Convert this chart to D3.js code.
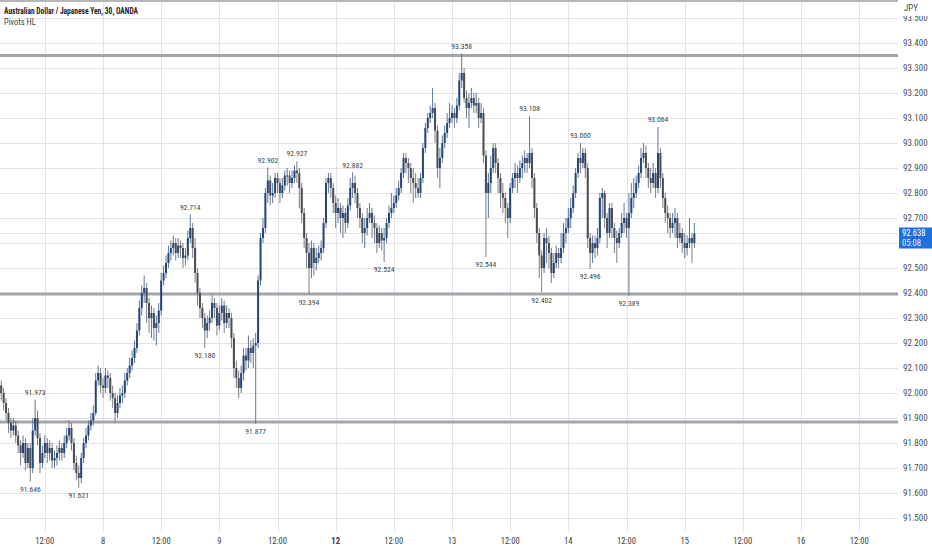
<!DOCTYPE html>
<html><head><meta charset="utf-8">
<script src="https://cdn.jsdelivr.net/npm/d3@7/dist/d3.min.js"></script>
<style>
html,body{margin:0;padding:0;background:#fff;}
svg{display:block;}
text{font-family:"Liberation Sans Narrow","Roboto Condensed","Liberation Sans",Arial,sans-serif;}
</style></head>
<body>
<svg id="c" width="932" height="550"></svg>
<script>
// ---- DATA ----
const title = "Australian Dollar / Japanese Yen, 30, OANDA";
const indicatorName = "Pivots HL";
const currency = "JPY";
const firstBar = -42;            // bar index relative to 8th 00:00 (30-min bars)
const firstOpen = 92.03;
const closes = [
92.000,91.960,91.920,91.880,91.850,91.870,91.830,91.790,91.760,91.800,
91.720,91.780,91.700,91.850,91.900,91.820,91.720,91.760,91.800,91.760,
91.780,91.730,91.740,91.760,91.780,91.760,91.800,91.830,91.860,91.800,
91.720,91.680,91.660,91.740,91.800,91.830,91.870,91.890,91.920,92.050,
92.080,92.030,92.020,92.070,92.060,92.000,91.980,91.920,91.960,91.990,
92.000,92.050,92.080,92.110,92.140,92.180,92.250,92.340,92.400,92.420,
92.360,92.300,92.320,92.260,92.280,92.330,92.450,92.480,92.520,92.560,
92.580,92.600,92.560,92.590,92.580,92.540,92.550,92.620,92.660,92.580,
92.480,92.400,92.340,92.300,92.250,92.280,92.300,92.360,92.340,92.270,
92.320,92.350,92.280,92.320,92.300,92.220,92.100,92.060,92.020,92.080,
92.150,92.130,92.180,92.160,92.190,92.200,92.450,92.620,92.660,92.800,
92.850,92.790,92.800,92.860,92.840,92.800,92.830,92.870,92.870,92.840,
92.860,92.890,92.880,92.820,92.720,92.620,92.560,92.500,92.580,92.520,
92.540,92.560,92.580,92.680,92.840,92.860,92.820,92.760,92.720,92.740,
92.700,92.720,92.680,92.750,92.820,92.840,92.800,92.740,92.700,92.640,
92.660,92.700,92.720,92.680,92.660,92.600,92.640,92.610,92.620,92.680,
92.720,92.740,92.760,92.790,92.820,92.880,92.940,92.920,92.900,92.860,
92.840,92.820,92.800,92.860,92.980,93.060,93.100,93.120,93.140,93.050,
92.900,92.940,93.000,93.040,93.080,93.100,93.120,93.100,93.150,93.250,
93.280,93.180,93.140,93.160,93.180,93.150,93.160,93.100,93.120,92.950,
92.800,92.840,92.900,92.980,92.920,92.860,92.800,92.780,92.740,92.700,
92.820,92.860,92.880,92.860,92.900,92.920,92.940,92.920,92.960,92.860,
92.740,92.640,92.550,92.500,92.620,92.600,92.560,92.480,92.520,92.560,
92.540,92.580,92.640,92.660,92.700,92.740,92.800,92.880,92.940,92.920,
92.960,92.900,92.620,92.560,92.600,92.580,92.620,92.780,92.800,92.700,
92.640,92.740,92.660,92.620,92.600,92.640,92.680,92.700,92.660,92.720,
92.780,92.800,92.840,92.880,92.940,92.960,92.900,92.860,92.840,92.880,
92.820,92.960,92.860,92.780,92.720,92.700,92.660,92.680,92.700,92.620,
92.640,92.600,92.580,92.600,92.620,92.600,92.638];
const highs = [
92.05,92.02,91.98,91.94,91.90,91.90,91.89,91.85,91.81,91.83,
91.82,91.80,91.80,91.90,91.973,91.93,91.84,91.79,91.83,91.82,
91.81,91.80,91.77,91.79,91.81,91.80,91.83,91.86,91.89,91.88,
91.82,91.75,91.71,91.76,91.82,91.86,91.89,91.92,91.95,92.08,
92.11,92.10,92.06,92.10,92.09,92.08,92.03,92.00,91.99,92.02,
92.03,92.08,92.10,92.14,92.17,92.21,92.28,92.37,92.43,92.47,
92.44,92.38,92.35,92.34,92.31,92.36,92.48,92.51,92.55,92.59,
92.61,92.63,92.62,92.62,92.61,92.60,92.58,92.65,92.714,92.68,
92.62,92.50,92.42,92.36,92.32,92.31,92.33,92.39,92.38,92.36,
92.35,92.38,92.37,92.35,92.34,92.32,92.24,92.13,92.09,92.11,
92.18,92.18,92.23,92.21,92.22,92.24,92.47,92.64,92.70,92.82,
92.902,92.87,92.84,92.88,92.88,92.86,92.86,92.89,92.90,92.89,
92.89,92.91,92.927,92.90,92.84,92.74,92.64,92.60,92.61,92.60,
92.58,92.59,92.61,92.70,92.86,92.88,92.88,92.84,92.79,92.78,
92.76,92.75,92.74,92.78,92.86,92.882,92.87,92.82,92.76,92.72,
92.70,92.74,92.76,92.74,92.71,92.68,92.67,92.66,92.66,92.70,
92.75,92.80,92.79,92.82,92.85,92.90,92.96,92.96,92.94,92.92,
92.90,92.88,92.86,92.88,93.00,93.08,93.12,93.15,93.22,93.16,
93.07,92.98,93.03,93.07,93.12,93.16,93.15,93.14,93.18,93.28,
93.358,93.30,93.21,93.20,93.22,93.20,93.20,93.18,93.16,93.14,
92.97,92.88,92.95,93.00,93.00,92.94,92.88,92.84,92.80,92.76,
92.84,92.88,92.92,92.91,92.93,92.95,92.97,92.96,93.108,92.98,
92.88,92.76,92.66,92.57,92.64,92.66,92.63,92.58,92.56,92.59,
92.58,92.64,92.68,92.70,92.74,92.78,92.83,92.90,92.96,93.00,
92.98,92.98,92.92,92.64,92.63,92.63,92.66,92.80,92.82,92.81,
92.72,92.76,92.76,92.68,92.65,92.66,92.72,92.76,92.72,92.80,
92.84,92.86,92.87,92.91,92.98,93.00,92.99,92.92,92.90,92.92,
92.90,93.064,92.98,92.88,92.80,92.75,92.72,92.72,92.74,92.72,
92.68,92.66,92.64,92.63,92.70,92.64,92.68];
const lows = [
91.97,91.93,91.89,91.84,91.82,91.83,91.80,91.76,91.71,91.74,
91.69,91.70,91.646,91.68,91.83,91.79,91.68,91.70,91.74,91.72,
91.73,91.70,91.70,91.71,91.73,91.73,91.74,91.78,91.81,91.77,
91.69,91.65,91.621,91.64,91.72,91.78,91.81,91.85,91.87,91.91,
92.03,92.00,91.98,92.00,92.02,91.97,91.94,91.88,91.90,91.94,
91.96,91.98,92.03,92.06,92.09,92.12,92.16,92.23,92.31,92.36,
92.28,92.24,92.22,92.21,92.19,92.24,92.31,92.43,92.46,92.50,
92.53,92.55,92.53,92.54,92.54,92.50,92.51,92.53,92.60,92.54,
92.44,92.35,92.30,92.26,92.18,92.22,92.25,92.28,92.30,92.23,
92.25,92.29,92.24,92.26,92.26,92.18,92.06,92.02,91.98,92.00,
92.05,92.09,92.10,92.12,92.10,91.877,92.18,92.43,92.60,92.64,
92.76,92.75,92.76,92.78,92.80,92.76,92.78,92.81,92.83,92.80,
92.82,92.84,92.84,92.74,92.68,92.58,92.50,92.394,92.46,92.47,
92.49,92.52,92.53,92.56,92.66,92.80,92.78,92.72,92.66,92.68,
92.64,92.62,92.64,92.66,92.73,92.78,92.76,92.70,92.66,92.60,
92.58,92.63,92.68,92.62,92.60,92.56,92.58,92.57,92.524,92.60,
92.66,92.70,92.72,92.74,92.77,92.80,92.86,92.88,92.84,92.80,
92.76,92.78,92.78,92.78,92.84,92.96,93.04,93.08,93.10,93.00,
92.86,92.82,92.92,92.98,93.02,93.06,93.08,93.06,93.08,93.13,
93.22,93.16,93.10,93.06,93.14,93.12,93.12,93.06,93.08,92.92,
92.544,92.70,92.80,92.88,92.88,92.80,92.74,92.72,92.68,92.62,
92.68,92.80,92.82,92.80,92.84,92.86,92.88,92.88,92.90,92.82,
92.70,92.60,92.46,92.402,92.48,92.52,92.50,92.44,92.46,92.50,
92.50,92.52,92.56,92.60,92.64,92.66,92.72,92.78,92.86,92.88,
92.90,92.86,92.58,92.496,92.52,92.54,92.55,92.60,92.70,92.66,
92.58,92.62,92.62,92.56,92.52,92.58,92.62,92.64,92.62,92.389,
92.70,92.74,92.78,92.82,92.86,92.92,92.86,92.82,92.80,92.82,
92.78,92.80,92.82,92.74,92.68,92.64,92.62,92.64,92.62,92.58,
92.60,92.56,92.54,92.55,92.58,92.52,92.58];
// pivots (bar index, price, type)
const pivotBars   = [-30,-28,-10,36,42,63,68,80,85,103,116,148,158,176,181,197,201,217,229];
const pivotPrices = [91.646,91.973,91.621,92.714,92.180,91.877,92.902,92.927,92.394,92.882,92.524,93.358,92.544,93.108,92.402,93.000,92.496,92.389,93.064];
const pivotTypes  = ["L","H","L","H","L","L","H","H","L","H","L","H","L","H","L","H","L","L","H"];
// support/resistance levels
const levels = [93.350, 92.396, 91.884];
const lastPrice = 92.638;
const countdown = "05:08";
// x ticks (bar index) and labels
const xTickBars = [-24,0,24,48,72,96,120,144,168,192,216,240,264,288,312];
const xTickLabels = ["12:00","8","12:00","9","12:00","12","12:00","13","12:00","14","12:00","15","12:00","16","12:00"];
const xTickBold = ["12"];
const yTicks = [91.5,91.6,91.7,91.8,91.9,92.0,92.1,92.2,92.3,92.4,92.5,92.6,92.7,92.8,92.9,93.0,93.1,93.2,93.3,93.4,93.5];

// ---- CHART ----
const svg = d3.select("#c");
const plotR = 898, plotB = 532;
const x = d3.scaleLinear().domain([0, 288]).range([103, 801]);
const y = d3.scaleLinear().domain([91.5, 93.4]).range([518, 43]);

const bars = closes.map((c, i) => ({
  k: firstBar + i,
  o: i === 0 ? firstOpen : closes[i - 1],
  h: highs[i], l: lows[i], c: c
}));

const defs = svg.append("defs");
defs.append("clipPath").attr("id","plot")
  .append("rect").attr("x",0).attr("y",0).attr("width",plotR).attr("height",plotB);
defs.append("clipPath").attr("id","yax")
  .append("rect").attr("x",plotR).attr("y",16).attr("width",40).attr("height",520);

const grid = svg.append("g").attr("clip-path","url(#plot)");
grid.selectAll("line.h").data(yTicks).join("line")
  .attr("x1",0).attr("x2",plotR)
  .attr("y1",d=>Math.round(y(d))+0.5).attr("y2",d=>Math.round(y(d))+0.5)
  .attr("stroke","#e1e3e8").attr("stroke-width",1);
grid.selectAll("line.v").data(xTickBars).join("line")
  .attr("y1",0).attr("y2",plotB)
  .attr("x1",d=>Math.round(x(d))+0.5).attr("x2",d=>Math.round(x(d))+0.5)
  .attr("stroke","#e1e3e8").attr("stroke-width",1);

// last price line
grid.append("line").attr("x1",0).attr("x2",plotR)
  .attr("y1",y(lastPrice)).attr("y2",y(lastPrice))
  .attr("stroke","#dfe2e8").attr("stroke-width",1);

// top border
svg.append("line").attr("x1",0).attr("x2",plotR).attr("y1",1).attr("y2",1)
  .attr("stroke","#b4b6bb").attr("stroke-width",2);

// levels
grid.selectAll("line.lv").data(levels).join("line")
  .attr("x1",0).attr("x2",plotR)
  .attr("y1",d=>y(d)).attr("y2",d=>y(d))
  .attr("stroke","#a3a5aa").attr("stroke-width",3.2);

// candles
const upCol = "#23467a", dnCol = "#474b53";
const bw = 2.0;
const cg = svg.append("g").attr("clip-path","url(#plot)");
const cs = cg.selectAll("g.c").data(bars).join("g");
cs.append("line")
  .attr("x1",d=>x(d.k)).attr("x2",d=>x(d.k))
  .attr("y1",d=>y(d.h)).attr("y2",d=>y(d.l))
  .attr("stroke",d=>d.c>=d.o?"#5f7599":"#7b7e86").attr("stroke-width",1);
cs.append("rect")
  .attr("x",d=>x(d.k)-bw/2).attr("width",bw)
  .attr("y",d=>y(Math.max(d.o,d.c)))
  .attr("height",d=>Math.max(1,Math.abs(y(d.o)-y(d.c))))
  .attr("fill",d=>d.c>=d.o?upCol:dnCol);

// pivot labels
const pv = pivotBars.map((b,i)=>({b, p:pivotPrices[i], t:pivotTypes[i]}));
svg.append("g").selectAll("text").data(pv).join("text")
  .attr("x",d=>x(d.b)).attr("y",d=>d.t==="H"? y(d.p)-5 : y(d.p)+10)
  .attr("text-anchor","middle").attr("font-size",7.6).attr("fill","#3c3f46")
  .text(d=>d.p.toFixed(3));

// price tag geometry
const tagY0 = y(lastPrice) - 6, tagY1 = tagY0 + 21;

// y axis labels (those under the price tag are hidden, as in the reference)
svg.append("g").attr("clip-path","url(#yax)").selectAll("text")
  .data(yTicks.filter(d => y(d) < tagY0 - 4 || y(d) > tagY1 + 4)).join("text")
  .attr("x",903).attr("y",d=>y(d)+3)
  .attr("font-size",9).attr("fill","#4a4d55")
  .text(d=>d.toFixed(3));
svg.append("text").attr("x",904).attr("y",11).attr("font-size",9)
  .attr("fill","#4a4d55").text(currency);

// price tag
svg.append("rect").attr("x",899).attr("y",tagY0).attr("width",33).attr("height",21)
  .attr("fill","#1f6fdc");
svg.append("text").attr("x",902).attr("y",y(lastPrice)+2.5).attr("font-size",8.6)
  .attr("fill","#fff").text(lastPrice.toFixed(3));
svg.append("text").attr("x",902).attr("y",y(lastPrice)+12).attr("font-size",8.6)
  .attr("fill","#e6eeff").text(countdown);

// x axis labels
svg.append("g").selectAll("text").data(xTickBars).join("text")
  .attr("x",d=>x(d)).attr("y",544).attr("text-anchor","middle")
  .attr("font-size",8.6)
  .attr("font-weight",(d,i)=>xTickBold.includes(xTickLabels[i])?"bold":"normal")
  .attr("fill","#3a3d44")
  .text((d,i)=>xTickLabels[i]);

// title
svg.append("text").attr("x",4).attr("y",14).attr("font-size",9.2)
  .attr("font-weight","bold").attr("fill","#1e2128")
  .attr("textLength",134).attr("lengthAdjust","spacingAndGlyphs").text(title);
svg.append("text").attr("x",4).attr("y",25).attr("font-size",8.4)
  .attr("fill","#3c3f46").text(indicatorName);
</script>
</body></html>
